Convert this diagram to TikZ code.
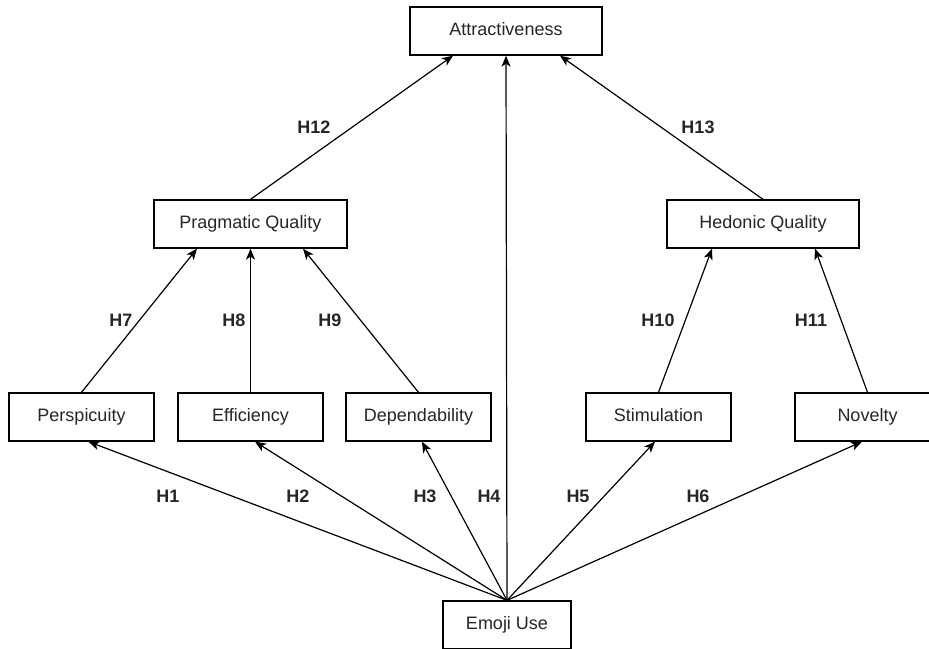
\documentclass[tikz,border=0pt]{standalone}
\usepackage{fontspec}
\setmainfont{Liberation Sans}
\usetikzlibrary{arrows.meta}
\begin{document}
\begin{tikzpicture}[x=1pt,y=-1pt,
  box/.style={draw=black,line width=1.3pt,fill=white,inner sep=0pt,
    minimum height=48pt,text height=13pt,text depth=4pt,
    font=\fontsize{18}{22}\selectfont,text=black!85},
  wbig/.style={minimum width=192pt},
  wsmall/.style={minimum width=145pt},
  hyp/.style={font=\bfseries\fontsize{18}{22}\selectfont,text=black!85},
  conn/.style={line width=1.2pt,-{Stealth[length=11pt,width=9pt,inset=3pt]}}]
\useasboundingbox (0,0) rectangle (929,648);
\clip (0,0) rectangle (929,648);
\node[box,wbig] (attr) at (506,31) {Attractiveness};
\node[box,wbig,minimum width=193pt] (prag) at (250.5,224) {Pragmatic Quality};
\node[box,wbig] (hedo) at (763,224) {Hedonic Quality};
\node[box,wsmall] (pers) at (81.5,417) {Perspicuity};
\node[box,wsmall] (effi) at (250.5,417) {Efficiency};
\node[box,wsmall] (depe) at (418.5,417) {Dependability};
\node[box,wsmall] (stim) at (658.5,417) {Stimulation};
\node[box,wsmall] (nove) at (867.5,417) {Novelty};
\node[box,minimum width=128pt] (emoj) at (507,625) {Emoji Use};

\draw[conn] (prag.north) -- ([xshift=-53pt]attr.south);
\draw[conn] (hedo.north) -- ([xshift=54pt]attr.south);
\draw[conn] (emoj.north) -- (attr.south);
\draw[conn] (pers.north) -- ([xshift=-53.5pt]prag.south);
\draw[conn] (effi.north) -- (prag.south);
\draw[conn] (depe.north) -- ([xshift=52.5pt]prag.south);
\draw[conn] (stim.north) -- ([xshift=-51pt]hedo.south);
\draw[conn] (nove.north) -- ([xshift=52pt]hedo.south);
\draw[conn] (emoj.north) -- ([xshift=7pt]pers.south);
\draw[conn] (emoj.north) -- ([xshift=4.5pt]effi.south);
\draw[conn] (emoj.north) -- ([xshift=3.5pt]depe.south);
\draw[conn] (emoj.north) -- ([xshift=-3.5pt]stim.south);
\draw[conn] (emoj.north) -- ([xshift=-5.5pt]nove.south);

\node[hyp] (h12) at (314,127) {H12};
\node[hyp] (h13) at (698,127) {H13};
\node[hyp] (h7) at (121,320) {H7};
\node[hyp] (h8) at (234,320) {H8};
\node[hyp] (h9) at (330,320) {H9};
\node[hyp] (h10) at (658,320) {H10};
\node[hyp] (h11) at (811,320) {H11};
\node[hyp] (h1) at (168,496) {H1};
\node[hyp] (h2) at (298,496) {H2};
\node[hyp] (h3) at (425,496) {H3};
\node[hyp] (h4) at (489,496) {H4};
\node[hyp] (h5) at (578,496) {H5};
\node[hyp] (h6) at (698,496) {H6};
\end{tikzpicture}
\end{document}
